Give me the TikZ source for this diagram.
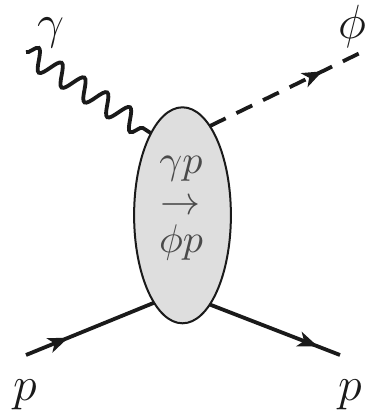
\documentclass[tikz,border=0pt]{standalone}
\usepackage{amsmath,amssymb}
\usepackage{tikz}
\usepackage{xcolor}
\usetikzlibrary{arrows.meta,positioning,shapes.geometric,decorations.pathmorphing,decorations.markings}
\definecolor{ink}{HTML}{1A1A1A}
\definecolor{inkgray}{HTML}{4A4A4A}
\definecolor{blobfill}{HTML}{DEDEDE}

\begin{document}
\begin{tikzpicture}[x=0.25pt,y=-0.25pt,
    leg/.style={line width=0.95pt,color=ink},
    arrowat/.style={postaction={decorate},
      decoration={markings,mark=at position #1 with
        {\arrow{Stealth[length=5pt,width=3.8pt,inset=1.3pt]}}}},
    fermion/.style={leg,arrowat=#1},
    scalar/.style={leg,dash pattern=on 4.4pt off 3pt,arrowat=#1},
    photon/.style={leg,decorate,
      decoration={snake,amplitude=2.6pt,segment length=6.8pt}},
    lbl/.style={font=\large,text=ink,inner sep=0pt},
    inner/.style={font=\normalsize,text=inkgray,inner sep=0pt}]
    \path[use as bounding box] (0,0) rectangle (370,417);
    % blob
    \node[ellipse,draw=ink,line width=0.5pt,fill=blobfill,
      minimum width=24.2pt,minimum height=54pt,inner sep=0pt,outer sep=0pt]
      (blob) at (182.5,215.3) {};
    \node[inner,anchor=base] (initial) at (181,174) {$\gamma p$};
    \node[inner] (goesto) at (180,207) {$\rightarrow$};
    \node[inner,anchor=base] (final) at (181,252.5) {$\phi p$};
    % external ends
    \coordinate (gin) at (26,52);
    \coordinate (phiout) at (360,53);
    \coordinate (pin) at (26,355);
    \coordinate (pout) at (340,355);
    % legs
    \draw[photon] (gin) -- (blob.111);
    \draw[scalar=0.75] (blob.73) -- (phiout);
    \draw[fermion=0.33] (pin) -- (blob.252);
    \draw[fermion=0.83] (blob.287) -- (pout);
    % labels
    \node[lbl] (gammalbl) at (51,33) {$\gamma$};
    \node[lbl] (philbl) at (352,27) {$\phi$};
    \node[lbl] (pinlbl) at (25,395) {$p$};
    \node[lbl] (poutlbl) at (350,395) {$p$};
  \end{tikzpicture}
\end{document}
